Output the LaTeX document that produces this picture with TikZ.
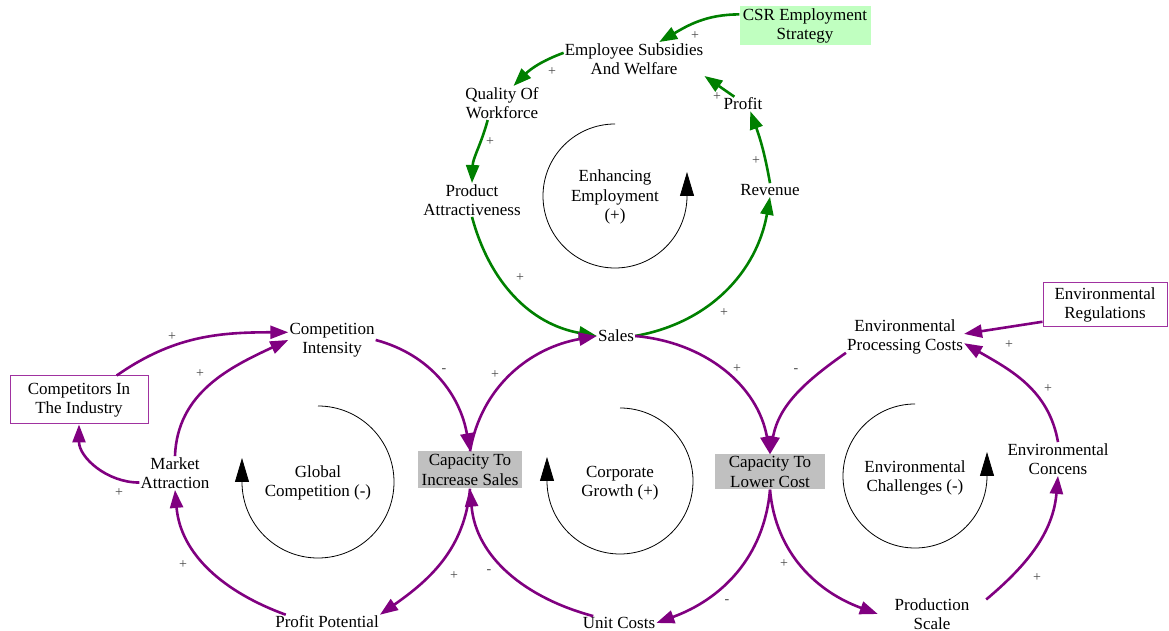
\documentclass[tikz,border=0pt]{standalone}
\usepackage{fontspec}
\setmainfont{Liberation Serif}
\usetikzlibrary{arrows.meta}
\definecolor{linkgreen}{RGB}{0,128,0}
\definecolor{linkpurple}{RGB}{128,0,128}
\definecolor{framepurple}{RGB}{160,50,160}
\definecolor{csrfill}{RGB}{192,255,192}
\definecolor{capgray}{RGB}{192,192,192}
\definecolor{signgray}{RGB}{70,70,70}
\tikzset{
  var/.style = {align=center, inner sep=1pt,
    font=\fontsize{17}{19.5}\selectfont},
  exo/.style = {var, draw=framepurple, line width=1pt, inner sep=0pt},% outside variable, purple frame
  capbox/.style = {var, fill=capgray, inner sep=0pt},% capacity, grey box
  strat/.style = {var, fill=csrfill, inner sep=0pt},% strategy, green box
  loopname/.style = {var},
  sign/.style = {font=\fontsize{14}{14}\selectfont, text=signgray, inner sep=0pt},
  glink/.style = {draw=linkgreen, line width=2.6pt,
    -{Triangle[length=18pt,width=13pt]}},
  plink/.style = {draw=linkpurple, line width=2.6pt,
    -{Triangle[length=18pt,width=13pt]}},
  looparrow/.style = {draw=black, line width=0.8pt, -{Triangle[length=24pt,width=14pt]}}
}
\begin{document}
\begin{tikzpicture}[x=1pt, y=1pt]
\useasboundingbox (0,0) rectangle (1169,631);
% upper loop
\node [strat, minimum width=131pt, minimum height=39pt] (csr) at (805,605) {CSR Employment\\Strategy};
\node [var] (esw) at (634,572) {Employee Subsidies\\And Welfare};
\node [var] (qow) at (502,528) {Quality Of\\Workforce};
\node [var] (profit) at (743,527) {Profit};
\node [var] (pa) at (472,431) {Product\\Attractiveness};
\node [var] (rev) at (770,441) {Revenue};
\node [var] (sales) at (616,295) {Sales};
\node [loopname] (ee) at (615,434) {Enhancing\\Employment\\(+)};
% lower loops
\node [var] (ci) at (332,291) {Competition\\Intensity};
\node [exo, minimum width=138pt, minimum height=48pt] (cii) at (79,231) {Competitors In\\The Industry};
\node [var] (ma) at (175,158) {Market\\Attraction};
\node [var] (pp) at (327,9) {Profit Potential};
\node [capbox, minimum width=104pt, minimum height=37pt] (cis) at (470,161) {Capacity To\\Increase Sales};
\node [capbox, minimum width=110pt, minimum height=35pt] (clc) at (770,159) {Capacity To\\Lower Cost};
\node [var] (uc) at (619,8) {Unit Costs};
\node [var, minimum width=108pt] (ps) at (932,17) {Production\\Scale};
\node [var] (ec) at (1058,172) {Environmental\\Concens};
\node [var] (epc) at (905,294) {Environmental\\Processing Costs};
\node [exo, minimum width=124pt, minimum height=44pt] (er) at (1105,326) {Environmental\\Regulations};
\node [loopname] (gc) at (318,148) {Global\\Competition (-)};
\node [loopname] (cg) at (620,148) {Corporate\\Growth (+)};
\node [loopname] (ech) at (915,153) {Environmental\\Challenges (-)};

% loop markers
\draw [looparrow] ([yshift=73pt]ee.center) arc[start angle=90, end angle=360, radius=72pt] -- ++(0,24);
\draw [looparrow] ([yshift=77pt]gc.center) arc[start angle=90, end angle=-180, radius=76pt] -- ++(0,24);
\draw [looparrow] ([yshift=75pt]cg.center) arc[start angle=90, end angle=-180, radius=73pt] -- ++(0,24);
\draw [looparrow] ([yshift=74pt]ech.center) arc[start angle=90, end angle=360, radius=72pt] -- ++(0,24);

% green links
\draw [glink] (csr.170) to[out=180, in=30] (esw.34);
\draw [glink] (esw.175) to[out=200, in=45] (qow.56);
\draw [glink] (qow.230) to[out=255, in=88] (pa.north);
\draw [glink] (pa.south) to[out=285, in=170] (sales.west);
\draw [glink] (sales.east) to[out=10, in=260] (rev.south);
\draw [glink] (rev.north) to[out=100, in=290] (profit.-45);
\draw [glink] (profit.140) -- (esw.south east);

% purple links
\draw [plink] (cii.33) to[out=35, in=180] (ci.170);
\draw [plink] (ma.north) to[out=88, in=205] (ci.west);
\draw [plink] (ma.195) to[out=180, in=270] (cii.south);
\draw [plink] (pp.170) to[out=160, in=275] (ma.south);
\draw [plink] (ci.east) to[out=-15, in=100] (cis.north);
\draw [plink] (cis.north) to[out=80, in=190] (sales.west);
\draw [plink] (cis.south) to[out=265, in=35] (pp.north east);
\draw [plink] (uc.165) to[out=165, in=275] (cis.south);
\draw [plink] (sales.east) to[out=-5, in=100] (clc.north);
\draw [plink] (epc.195) to[out=215, in=80] (clc.north);
\draw [plink] (clc.south) to[out=265, in=20] (uc.east);
\draw [plink] (clc.south) to[out=275, in=160] (ps.west);
\draw [plink] (ps.15) to[out=40, in=265] (ec.south);
\draw [plink] (ec.north) to[out=100, in=-30] (epc.-6);
\draw [plink] (er.195) -- (epc.3);

% polarity signs
\node [sign] (sg1) at (695,595) {+};
\node [sign] (sg2) at (552,559) {+};
\node [sign] (sg3) at (490,489) {+};
\node [sign] (sg4) at (520,353) {+};
\node [sign] (sg5) at (724,318) {+};
\node [sign] (sg6) at (756,470) {+};
\node [sign] (sg7) at (717,534) {+};
\node [sign] (sg8) at (172,294) {+};
\node [sign] (sg9) at (200,257) {+};
\node [sign] (sg10) at (119,138) {+};
\node [sign] (sg11) at (183,66) {+};
\node [sign] (sg12) at (444,260) {-};
\node [sign] (sg13) at (495,256) {+};
\node [sign] (sg14) at (454,55) {+};
\node [sign] (sg15) at (489,59) {-};
\node [sign] (sg16) at (737,262) {+};
\node [sign] (sg17) at (796,260) {-};
\node [sign] (sg18) at (727,29) {-};
\node [sign] (sg19) at (784,67) {+};
\node [sign] (sg20) at (1037,53) {+};
\node [sign] (sg21) at (1048,242) {+};
\node [sign] (sg22) at (1009,286) {+};
\end{tikzpicture}
\end{document}
